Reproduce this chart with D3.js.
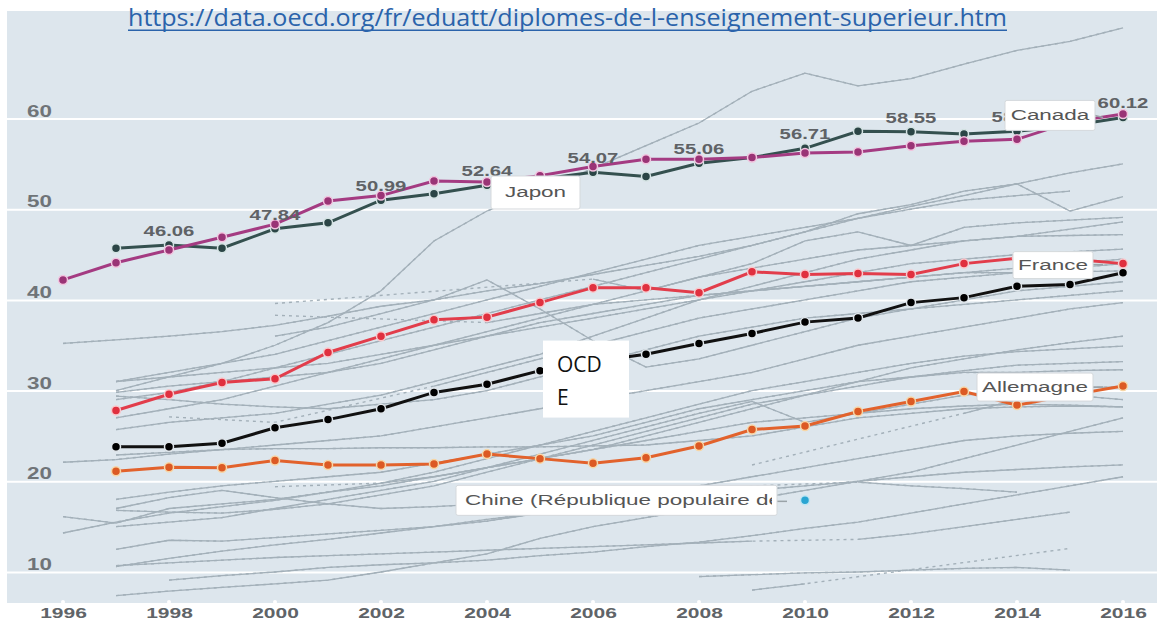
<!DOCTYPE html>
<html>
<head>
<meta charset="utf-8">
<script src="https://cdn.jsdelivr.net/npm/d3@7"></script>
<style>
  body { margin: 0; background: #fff; }
</style>
</head>
<body>
<div id="chart"></div>
<script>
const _ = null;

// années (axe horizontal)
const annees = [1996, 1997, 1998, 1999, 2000, 2001, 2002, 2003, 2004, 2005, 2006,
                2007, 2008, 2009, 2010, 2011, 2012, 2013, 2014, 2015, 2016];
const anneesAxe = [1996, 1998, 2000, 2002, 2004, 2006, 2008, 2010, 2012, 2014, 2016];
const ticksY = [10, 20, 30, 40, 50, 60];

// séries mises en avant (% diplômés du supérieur, 25-34 ans)
const japon     = [42.2, 44.1, 45.5, 46.9, 48.35, 50.9, 51.5, 53.1, 53.0, 53.7, 54.7,
                   55.5, 55.5, 55.7, 56.2, 56.3, 57.0, 57.5, 57.7, 59.6, 60.5];
const canada    = [_, 45.7, 46.06, 45.7, 47.84, 48.5, 50.99, 51.7, 52.64, 53.3, 54.07,
                   53.6, 55.06, 55.7, 56.71, 58.6, 58.55, 58.3, 58.6, 59.2, 60.12];
const france    = [_, 27.8, 29.6, 30.9, 31.3, 34.2, 36.0, 37.8, 38.1, 39.7, 41.35,
                   41.35, 40.8, 43.1, 42.8, 42.9, 42.8, 44.0, 44.6, 44.5, 44.0];
const ocde      = [_, 23.8, 23.8, 24.2, 25.9, 26.8, 28.0, 29.8, 30.7, 32.2, 33.2,
                   34.0, 35.2, 36.3, 37.55, 38.0, 39.7, 40.25, 41.5, 41.7, 43.0];
const allemagne = [_, 21.1, 21.55, 21.5, 22.3, 21.8, 21.8, 21.9, 23.0, 22.5, 22.0,
                   22.6, 23.9, 25.7, 26.1, 27.7, 28.8, 29.9, 28.4, 29.5, 30.5];
const chine     = [_, _, _, _, _, _, _, _, _, _, _, _, _, _, 17.9, _, _, _, _, _, _];

// années étiquetées (valeurs du Canada)
const anneesEtiquettes = [1998, 2000, 2002, 2004, 2006, 2008, 2010, 2012, 2014, 2016];

// autres pays de l'OCDE (gris) ; un trou dans la série = pointillés
const autresPays = [
  [_, 30, 31.5, 33, 35, 37.5, 41, 46.5, 49.8, 52, 54.5, 57, 59.5, 63, 65, 63.6, 64.4, 66, 67.5, 68.5, 70],
  [35.2, 35.6, 36, 36.5, 37.2, 38.2, 39.3, 40, 41, 41.8, 42.8, 43.8, 44.8, 46, 47.5, 49, 50.3, 51.5, 52.8, 54, 55],
  [_, 29, 29.8, 31, 32.5, 34, 35.5, 37, 38.5, 40, 41.5, 43, 44.5, 46, 47.5, 49.5, 50.5, 52, 52.8, 49.8, 51.4],
  [_, 31, 32, 33, 34, 35.5, 37, 38.5, 40, 41.5, 43, 44.5, 46, 47, 48, 49, 50, 51, 51.5, 52, _],
  [_, 27, 28, 29, 30.5, 32, 33.5, 35, 36.5, 38, 39.5, 41, 42.5, 44, 46.5, 47.5, 46, 48, 48.5, 48.8, 49.1],
  [_, _, _, _, 39.6, _, _, _, _, _, 42.3, 41, 42.5, 43.5, 44.5, 45.5, 46, 46.5, 47, 47.8, 48.6],
  [_, _, _, _, 38.3, _, _, _, 37.5, 38.5, 39.5, 40, 40.5, 41, 41.5, 42, 42.5, 43, 43.5, 44, 44.5],
  [_, 31, 31.5, 32, 32.5, 33, 34, 35, 36, 37, 38, 39, 40, 41, 42, 43, 44, 44.5, 45, 45.3, 45.6],
  [_, 29.8, 30.5, 31, 31.5, 32, 33, 34.5, 36, 37.5, 38.5, 39.5, 40.5, 41, 41.5, 42, 42.5, 43, 43, 43.1, 43.2],
  [_, 29.4, 29, 28.5, 28.2, 28, 28.5, 29, 30, 31.5, 33, 34.5, 36, 37, 38, 38.5, 39, 39.5, 40, 40.5, 41],
  [_, 25.7, 26.5, 27, 27.5, 28.5, 29.5, 31, 32.5, 34, 36, 38, 40, 41.5, 43, 44.5, 45.5, 46.5, 47, 47.1, 47.2],
  [22.1, 22.4, 23, 23.5, 24, 24.5, 25, 26, 27, 28, 29, 30, 31, 32, 33.5, 35, 36, 37, 38, 39, 39.7],
  [_, 22.9, 23.2, 23.5, 23.6, 23.6, 23.7, 23.7, 23.8, 23.8, 23.9, 24, 24.5, 25, 26, 27, 27.5, 28, 28.2, 28.3, 28.2],
  [_, 18, 18.8, 19.5, 20, 20.5, 21, 22, 23, 24, 25, 26.5, 28, 29, 30, 31, 31.5, 32, 32, 32.2, 32.3],
  [_, _, _, _, 36, 37, 38.5, 40, 42.2, 39, 35.5, 32.6, 33.5, 35, 36.5, 38, 39, 40, 41, 41.5, 42],
  [_, 15, 15.5, 16, 17, 18, 19, 20, 21.5, 23, 24.5, 26, 27.5, 28.8, 26.5, 27.5, 28.5, 29.5, 30, 30.3, 30.4],
  [16.1, 15.4, 17, 17.5, 18, 18.8, 19.5, 20.5, 21.5, 22.5, 23.5, 24.5, 25.5, 26.5, 27, 27.5, 28, 28.3, 28.5, 28.4, 28.2],
  [14.3, 15.5, 16.5, 17.2, 17.9, 18.8, 19.8, 21, 22.5, 24, 25.5, 27, 28.5, 30, 31, 32, 33, 33.8, 34.3, 34.6, 34.9],
  [_, 17, 18.2, 19, 18.2, 17.5, 17, 17.2, 17.5, 17.8, 18, 18.3, 18.8, 19.5, _, 19.9, 19.5, 19.2, 18.8, _, _],
  [_, 16.8, 16.6, 16.5, 16.9, 17.5, 18.5, 19.5, 21, 22.5, 24, 25.5, 27, 28.5, 29.5, 30.5, 31.5, 32.2, 32.8, 33, 33.2],
  [_, 12.5, 13.5, 13.4, 13.8, 14.2, 14.6, 15, 15.6, 16.5, 17.5, 18.5, 19.5, 20.5, 21.5, 22.5, 23.5, 24.5, 25, 25.3, 25.5],
  [_, 10.6, 11.5, 12.3, 13, 13.6, 14.3, 15, 15.8, 16.5, 17.2, 18, 18.5, 19, 19.5, 20, 20.5, 21, 21.3, 21.6, 21.8],
  [_, 10.7, 11, 11.3, 11.6, 11.8, 12, 12.2, 12.4, 12.6, 12.8, 13, 13.2, 13.4, _, 13.6, 14.2, 15, 15.8, 16.6, _],
  [_, _, 9.1, 9.6, 10, 10.5, 10.8, 11, 11.3, 11.8, 12.2, 12.8, 13.3, 14, 14.8, 15.5, 16.5, 17.5, 18.5, 19.5, 20.5],
  [_, 7.4, 7.9, 8.3, 8.7, 9.1, 10, 11, 12, 13.7, 15, 16, 17, 18, 19, 20, 21, 22.5, 24, 25.5, 27],
  [_, _, _, _, _, _, _, _, _, _, _, _, _, 8.0, 8.7, _, _, _, _, 12.6, _],
  [_, _, _, _, _, _, _, _, _, _, _, _, 9.5, 9.7, 9.9, 10, 10.2, 10.4, 10.5, 10.2, _],
  [_, _, _, _, _, _, _, _, _, _, _, _, _, 21.8, _, _, _, 27.5, 29, 29.5, 29],
  [_, _, _, _, 19.4, _, 19.8, 20.5, 21.5, 22.5, 23.5, 25, 26.5, 28, 29.5, 31, 32.5, 33.5, 34.5, 35.3, 36],
  [_, _, 27.1, _, 26.5, _, _, 30.5, 32, 33.5, 35, 36.5, 38, 39, 40, 41, 42, 42.5, 43, 43.5, 44]
];

const width = 1157, height = 621;
const panel = {left: 7, top: 11, right: 1157, bottom: 603};

const svg = d3.select("#chart").append("svg")
    .attr("width", width)
    .attr("height", height)
    .style("font-family", "'Liberation Sans', Arial, sans-serif");

const x = d3.scaleLinear().domain([1996, 2016]).range([63, 1123]);
const y = d3.scaleLinear().domain([10, 60]).range([572, 118.5]);

const defs = svg.append("defs");
defs.append("clipPath").attr("id", "panneau")
  .append("rect")
    .attr("x", panel.left).attr("y", panel.top)
    .attr("width", panel.right - panel.left).attr("height", panel.bottom - panel.top);

// fond
svg.append("rect")
    .attr("x", panel.left).attr("y", panel.top)
    .attr("width", panel.right - panel.left).attr("height", panel.bottom - panel.top)
    .attr("fill", "#dde6ed");

// grille
svg.append("g")
    .attr("transform", "translate(" + panel.left + ",0)")
    .call(d3.axisLeft(y).tickValues(ticksY).tickSize(-(panel.right - panel.left)).tickFormat(""))
    .call(g => g.select(".domain").remove())
    .call(g => g.selectAll("line").attr("stroke", "#fff").attr("stroke-width", 2));

// petits repères des années
svg.append("g").selectAll("circle")
    .data(anneesAxe)
  .enter().append("circle")
    .attr("cx", d => x(d))
    .attr("cy", panel.bottom - 1)
    .attr("r", 2)
    .attr("fill", "#fff");

const ligneDef = d3.line()
    .defined(d => d[1] != null)
    .x(d => x(d[0]))
    .y(d => y(d[1]));
const ligneTout = d3.line()
    .x(d => x(d[0]))
    .y(d => y(d[1]));

const trace = svg.append("g").attr("clip-path", "url(#panneau)");

// pays en gris
autresPays.forEach(function(serie) {
  var pts = annees.map((a, i) => [a, serie[i]]);
  trace.append("path")
      .datum(pts.filter(d => d[1] != null))
      .attr("d", ligneTout)
      .attr("fill", "none")
      .attr("stroke", "#a3b0b9")
      .attr("stroke-width", 1.4)
      .attr("stroke-dasharray", "3,4");
  trace.append("path")
      .datum(pts)
      .attr("d", ligneDef)
      .attr("fill", "none")
      .attr("stroke", "#a3b0b9")
      .attr("stroke-width", 1.3);
});

function serieMiseEnAvant(valeurs, couleur, point, halo) {
  var pts = annees.map((a, i) => [a, valeurs[i]]);
  trace.append("path")
      .datum(pts)
      .attr("d", ligneDef)
      .attr("fill", "none")
      .attr("stroke", couleur)
      .attr("stroke-width", 3);
  trace.append("g").selectAll("circle")
      .data(pts.filter(d => d[1] != null))
    .enter().append("circle")
      .attr("cx", d => x(d[0]))
      .attr("cy", d => y(d[1]))
      .attr("r", 4.5)
      .attr("fill", point)
      .attr("stroke", halo)
      .attr("stroke-width", 1.5);
}

serieMiseEnAvant(chine, "#2aa5d2", "#2aa5d2", "#bfe6f3");
serieMiseEnAvant(allemagne, "#e2622c", "#dc5a24", "#f7d6a6");
serieMiseEnAvant(ocde, "#111", "#000", "#dfe5ea");
serieMiseEnAvant(france, "#e23d4b", "#e0303f", "#f8c8cc");
serieMiseEnAvant(canada, "#34504f", "#2b4546", "#d4e3e3");
serieMiseEnAvant(japon, "#a43b82", "#9a3476", "#f2c4df");

// valeurs du Canada
const fmt = d3.format(".2f");
svg.append("g").selectAll("text")
    .data(anneesEtiquettes)
  .enter().append("text")
    .attr("transform", d => "translate(" + x(d) + "," + (y(canada[annees.indexOf(d)]) - 9) + ") scale(1.45,1)")
    .attr("text-anchor", "middle")
    .attr("font-size", 14)
    .attr("font-weight", "bold")
    .attr("fill", "#5f6266")
    .text(d => fmt(canada[annees.indexOf(d)]));

// étiquettes des séries (boîtes blanches)
var nEtiq = 0;
function etiquette(texte, gauche, haut, larg, haut2, pointeur, centre) {
  var g = svg.append("g");
  var id = "clip-etiq-" + (nEtiq++);
  defs.append("clipPath").attr("id", id)
    .append("rect").attr("x", gauche + 1).attr("y", haut).attr("width", larg - 6).attr("height", haut2);
  if (pointeur) {
    g.append("line")
        .attr("x1", pointeur[0]).attr("y1", pointeur[1])
        .attr("x2", pointeur[2]).attr("y2", pointeur[3])
        .attr("stroke", "#9aa3a8").attr("stroke-width", 1.5);
  }
  g.append("rect")
      .attr("x", gauche).attr("y", haut)
      .attr("width", larg).attr("height", haut2)
      .attr("rx", 2)
      .attr("fill", "#fff")
      .attr("stroke", "#d5d9dc");
  var tx = centre ? gauche + larg / 2 : gauche + 9;
  g.append("g")
      .attr("clip-path", "url(#" + id + ")")
    .append("text")
      .attr("transform", "translate(" + tx + "," + (haut + haut2 / 2 + 5) + ") scale(1.55,1)")
      .attr("text-anchor", centre ? "middle" : "start")
      .attr("font-size", 14.5)
      .attr("fill", "#555")
      .text(texte);
}

var yC = y(canada[20]);
etiquette("Canada", x(2016) - 118, yC - 17, 90, 30, [x(2016) - 28, yC - 2, x(2016) - 20, yC], true);
var yF = y(france[20]);
etiquette("France", x(2016) - 110, yF - 12, 80, 27, [x(2016) - 30, yF + 1, x(2016) - 20, yF + 1], true);
var yA = y(allemagne[20]);
etiquette("Allemagne", x(2016) - 146, yA - 13, 116, 28, [x(2016) - 30, yA + 1, x(2016) - 20, yA + 1], true);
var yCh = y(chine[14]);
etiquette("Chine (République populaire de Chine)", x(2010) - 349, yCh - 15, 321, 30,
    [x(2010) - 28, yCh + 1, x(2010) - 18, yCh + 1], false);
var yJ = y(japon[8]);
etiquette("Japon", x(2004) + 4, yJ - 6, 89, 33, null, true);

// encadré OCDE
const ocdeX = x(2006) - 50, ocdeY = y(ocde[10]) - 21;
svg.append("rect")
    .attr("x", ocdeX).attr("y", ocdeY)
    .attr("width", 86).attr("height", 77)
    .attr("fill", "#fff");
svg.append("text")
    .attr("x", ocdeX + 14).attr("y", ocdeY + 31)
    .attr("font-family", "'Open Sans', sans-serif")
    .attr("font-size", 21)
    .attr("fill", "#111")
    .text("OCD");
svg.append("text")
    .attr("x", ocdeX + 14).attr("y", ocdeY + 64)
    .attr("font-family", "'Open Sans', sans-serif")
    .attr("font-size", 21)
    .attr("fill", "#111")
    .text("E");

// axes
svg.append("g")
    .attr("transform", "translate(0," + panel.bottom + ")")
    .call(d3.axisBottom(x).tickValues(anneesAxe).tickFormat(d3.format("d")).tickSize(0).tickPadding(0))
    .call(g => g.select(".domain").remove())
    .call(g => g.selectAll("text")
        .attr("y", 15).attr("dy", 0)
        .attr("transform", "scale(1.4,1)")
        .attr("font-size", 15)
        .attr("font-weight", "bold")
        .attr("font-family", "'Liberation Sans', Arial, sans-serif")
        .attr("fill", "#606468"));

svg.append("g")
    .attr("transform", "translate(27,0)")
    .call(d3.axisRight(y).tickValues(ticksY).tickSize(0).tickPadding(0))
    .call(g => g.select(".domain").remove())
    .call(g => g.selectAll("text")
        .attr("dy", -2.5)
        .attr("transform", "scale(1.4,1)")
        .attr("font-size", 16)
        .attr("font-weight", "bold")
        .attr("font-family", "'Liberation Sans', Arial, sans-serif")
        .attr("fill", "#6f7478"));

// source
svg.append("text")
    .attr("x", 128).attr("y", 26)
    .attr("textLength", 879)
    .attr("lengthAdjust", "spacingAndGlyphs")
    .attr("font-family", "'Open Sans', sans-serif")
    .attr("font-size", 23)
    .attr("fill", "#2a63ab")
    .text("https://data.oecd.org/fr/eduatt/diplomes-de-l-enseignement-superieur.htm");
svg.append("rect")
    .attr("x", 128).attr("y", 29.5)
    .attr("width", 879).attr("height", 1.5)
    .attr("fill", "#2a63ab");
</script>
</body>
</html>
